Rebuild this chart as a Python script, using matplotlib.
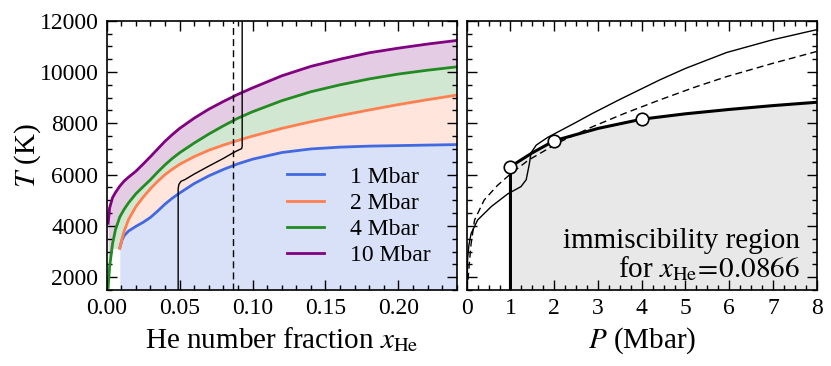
import matplotlib
matplotlib.use("Agg")
import matplotlib.pyplot as plt
import numpy as np
from matplotlib.ticker import MultipleLocator

plt.rcParams.update({
    'font.family': 'serif',
    'font.serif': ['Liberation Serif', 'DejaVu Serif'],
    'mathtext.fontset': 'stix',
})

# left panel: T along x_He for four pressures
x_grid = [0.009, 0.0105, 0.012, 0.015, 0.02, 0.025, 0.03, 0.035, 0.04, 0.045,
          0.05, 0.06, 0.07, 0.08, 0.09, 0.10, 0.12, 0.14, 0.16, 0.18, 0.20,
          0.22, 0.24]
T_1 = [3150, 3450, 3620, 3800, 3980, 4140, 4330, 4580, 4850, 5080,
       5280, 5650, 5950, 6200, 6420, 6600, 6860, 7000, 7070, 7110, 7130,
       7150, 7170]
T_2 = [3120, 3500, 3800, 4250, 4750, 5120, 5450, 5740, 6000, 6210,
       6400, 6700, 6950, 7150, 7330, 7500, 7800, 8060, 8300, 8520, 8730,
       8920, 9100]
x_low = [0.001, 0.002, 0.004, 0.006]
T_4_low = [1600, 2400, 3300, 3850]
T_4 = [4350, 4500, 4650, 4900, 5250, 5530, 5800, 6100, 6380, 6630,
       6850, 7230, 7580, 7900, 8200, 8450, 8880, 9230, 9500, 9730, 9920,
       10070, 10200]
T_10_low = [4100, 4700, 5100, 5300]
T_10 = [5550, 5650, 5750, 5900, 6130, 6410, 6700, 7000, 7300, 7560,
        7800, 8200, 8550, 8850, 9130, 9380, 9850, 10220, 10500, 10750, 10930,
        11090, 11230]
floor_2 = 3120

# black path and the fixed composition
path_x = [0.049, 0.049, 0.0495, 0.051, 0.0535, 0.06, 0.07, 0.08, 0.0867,
          0.0905, 0.0925, 0.0929, 0.0929]
path_T = [1500, 5450, 5620, 5740, 5800, 6020, 6330, 6630, 6850,
          6960, 7010, 7100, 12000]
x_fixed = 0.0866

# right panel
P_thin = [0.01, 0.02, 0.05, 0.1, 0.25, 0.56, 0.94, 1.24, 1.36, 1.43, 1.47,
          1.59, 1.85, 2.46, 2.88, 3.5, 4.41, 5.0, 5.94, 7.0, 8.0]
T_thin = [1500, 2700, 3250, 3700, 4230, 4750, 5250, 5530, 5800, 6400, 6850,
          7150, 7450, 8000, 8390, 8930, 9690, 10140, 10760, 11260, 11650]
P_dash = [0.03, 0.06, 0.1, 0.18, 0.4, 0.71, 1.02, 1.4, 1.85, 2.1, 2.88, 3.6,
          4.41, 5.2, 5.94, 7.0, 8.0]
T_dash = [1900, 2540, 3300, 4230, 5010, 5590, 6050, 6550, 7000, 7250, 7870,
          8380, 8910, 9400, 9820, 10340, 10800]
P_bound = [1, 1.5, 2, 3, 4, 5, 6, 7, 8]
T_bound = [6310, 6850, 7320, 7800, 8160, 8370, 8540, 8690, 8820]
P_pts = [1, 2, 4]
T_pts = [6310, 7320, 8160]

labels = ['1 Mbar', '2 Mbar', '4 Mbar', '10 Mbar']
colors = ['royalblue', 'coral', 'forestgreen', 'purple']

fig, (ax1, ax2) = plt.subplots(1, 2, sharey=True, figsize=(8.31, 3.66), dpi=100)
plt.subplots_adjust(left=0.1284, right=0.9828, bottom=0.2077, top=0.9434,
                    wspace=0.0286)

xg = np.array(x_grid)
x4 = np.concatenate([x_low, xg])
T4 = np.concatenate([T_4_low, T_4])
T10 = np.concatenate([T_10_low, T_10])
low2 = np.minimum(np.concatenate([np.full(len(x_low), floor_2), T_2]), T4)

ax1.fill_between(xg, 1500, T_1, color=colors[0], alpha=0.2, lw=0)
ax1.fill_between(xg, T_1, T_2, color=colors[1], alpha=0.2, lw=0)
ax1.fill_between(x4, low2, T4, color=colors[2], alpha=0.2, lw=0)
ax1.fill_between(x4, T4, T10, color=colors[3], alpha=0.2, lw=0)

ax1.plot(xg, T_1, color=colors[0], lw=2, label=labels[0])
ax1.plot(xg, T_2, color=colors[1], lw=2, label=labels[1])
ax1.plot(x4, T4, color=colors[2], lw=2, label=labels[2])
ax1.plot(x4, T10, color=colors[3], lw=2, label=labels[3])

ax1.plot(path_x, path_T, color='k', lw=1)
ax1.axvline(x_fixed, color='k', lw=1, ls=(0, (5, 3)))

ax1.legend(loc='lower right', bbox_to_anchor=(0.96, 0.044), frameon=False,
           fontsize=17, handlelength=1.6, handletextpad=1.1, labelspacing=0.2,
           borderpad=0)

ax1.set_xlim(0, 0.24)
ax1.set_ylim(1500, 12000)
ax1.set_xticks([0, 0.05, 0.10, 0.15, 0.20])
ax1.set_xticklabels(['0.00', '0.05', '0.10', '0.15', '0.20'])
ax1.xaxis.set_minor_locator(MultipleLocator(0.01))
ax1.set_yticks(range(2000, 12001, 2000))
ax1.yaxis.set_minor_locator(MultipleLocator(500))
ax1.set_xlabel(r'He number fraction $x_{\mathrm{He}}$', fontsize=21)
ax1.set_ylabel(r'$T$ (K)', fontsize=21)
ax1.yaxis.set_label_coords(-0.182, 0.5)

ax2.fill_between([1] + P_bound, [1500] + [1500] * len(P_bound),
                 [1500] + T_bound, color='#e8e8e8', lw=0)
ax2.plot(P_thin, T_thin, color='k', lw=1)
ax2.plot(P_dash, T_dash, color='k', lw=1, ls=(0, (5, 3)))
ax2.plot([1] + P_bound, [1500] + T_bound, color='k', lw=2.2)
ax2.plot(P_pts, T_pts, 'o', ms=9, mfc='white', mec='k', mew=1.2, zorder=5)

ax2.text(0.952, 0.156, 'immiscibility region', transform=ax2.transAxes,
         ha='right', va='baseline', fontsize=21)
ax2.text(0.952, 0.048, r'for $x_{\mathrm{He}}\!=\!0.0866$', transform=ax2.transAxes,
         ha='right', va='baseline', fontsize=21)

ax2.set_xlim(0, 8)
ax2.set_xticks(range(0, 9))
ax2.xaxis.set_minor_locator(MultipleLocator(0.25))
ax2.set_xlabel(r'$P$ (Mbar)', fontsize=21)

for ax in (ax1, ax2):
    ax.tick_params(which='both', direction='in', top=True, right=True,
                   labelsize=17, width=1)
    ax.tick_params(which='major', length=7, pad=6)
    ax.tick_params(which='minor', length=3.5)
    for s in ax.spines.values():
        s.set_linewidth(1.2)
ax2.tick_params(labelleft=False)

fig.savefig('out.png', dpi=100)
